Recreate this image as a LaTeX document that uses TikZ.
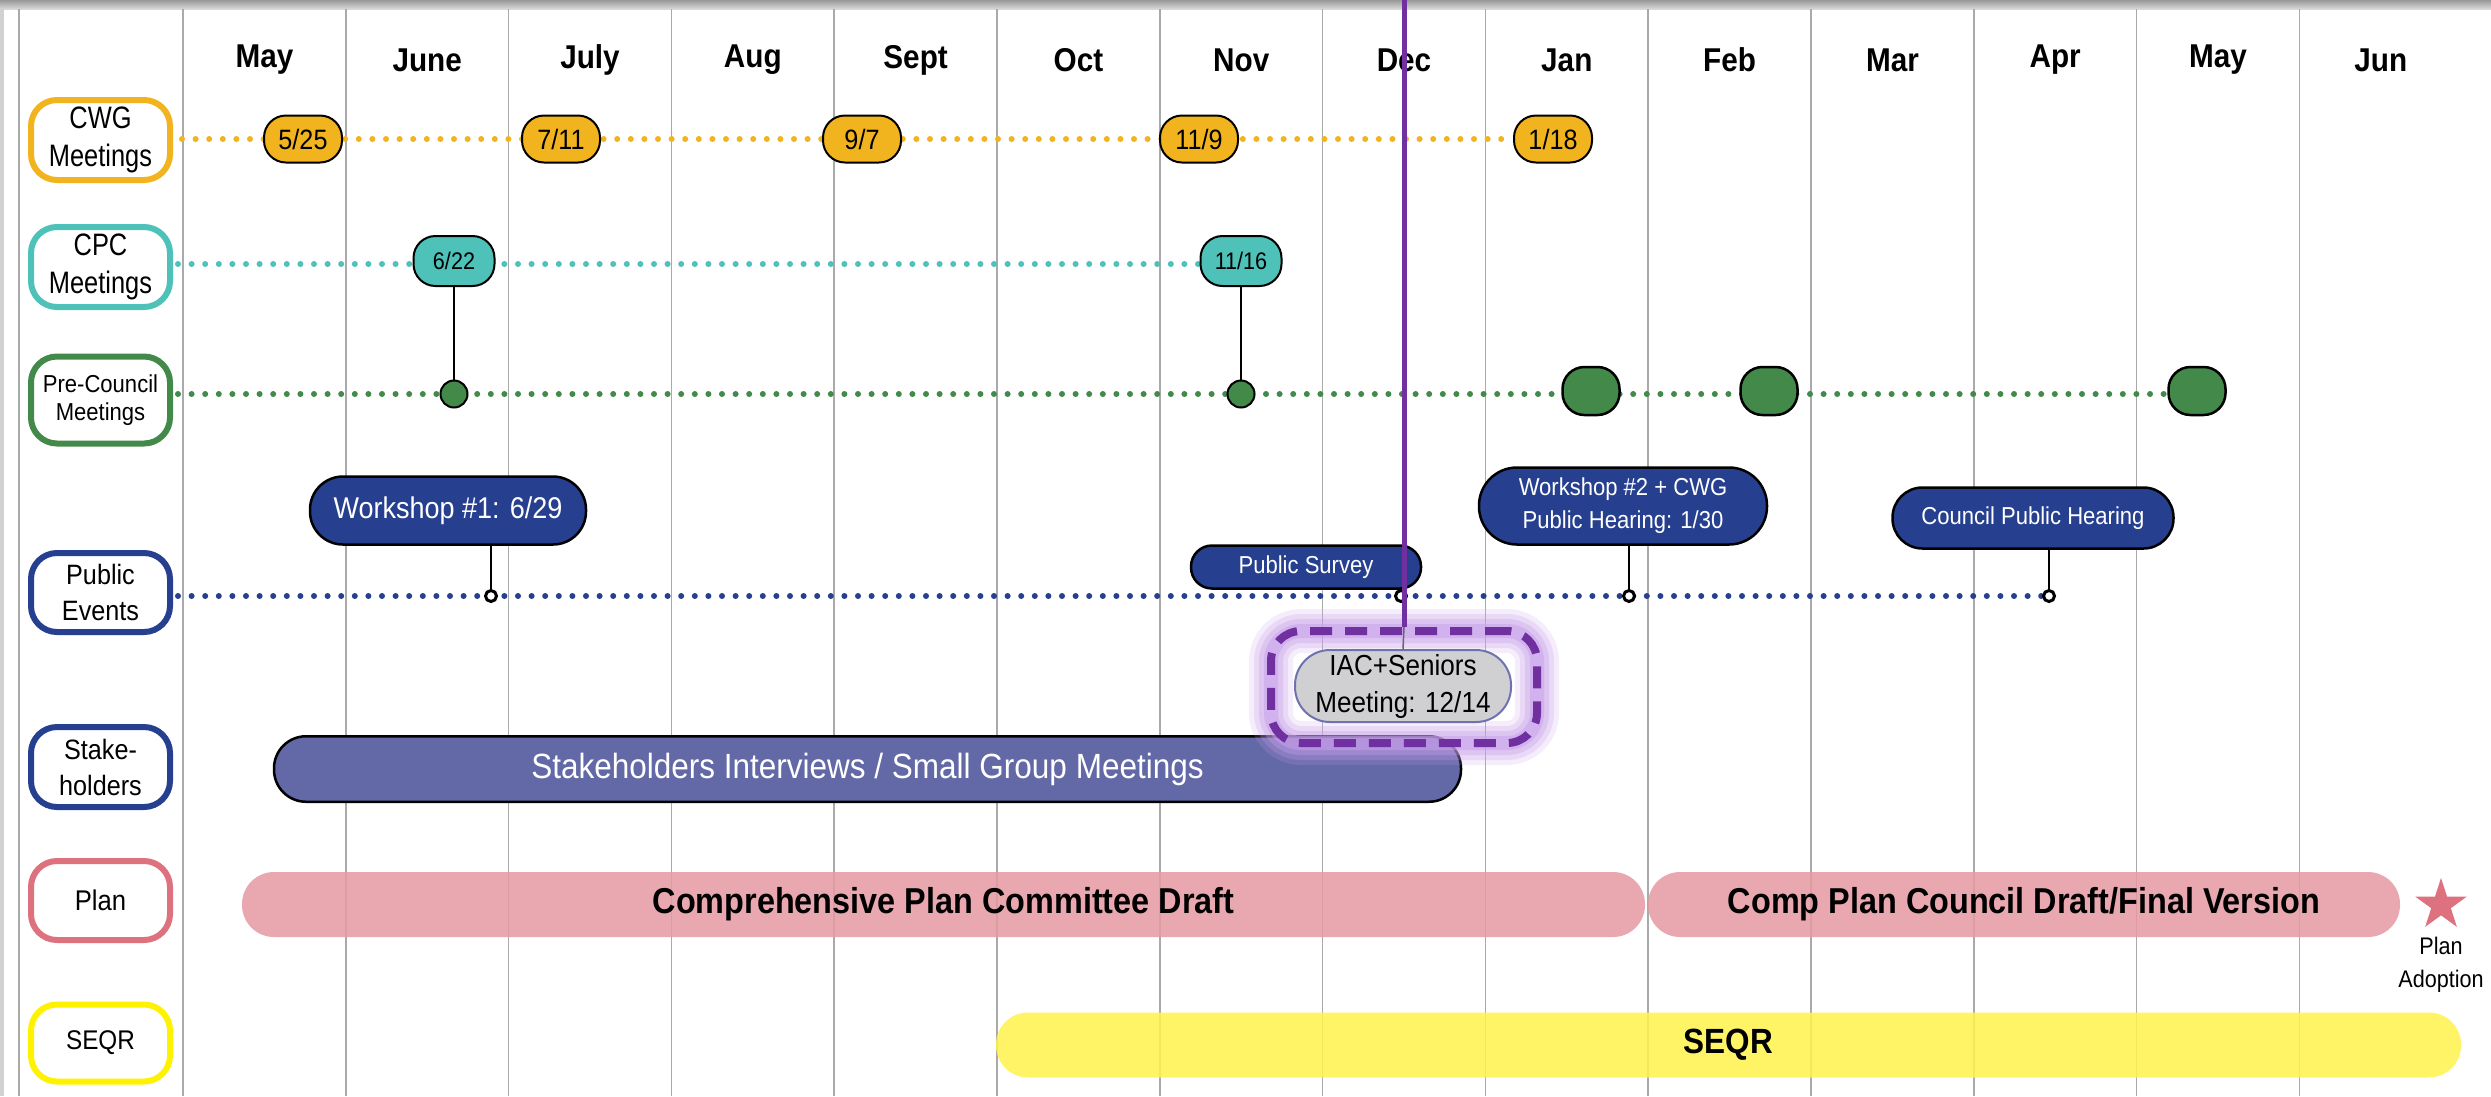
\documentclass[tikz,border=0pt]{standalone}
\usepackage{fontspec}
\setmainfont{Liberation Sans}[FakeStretch=0.9]
\newfontfamily\labelfont{Liberation Sans}[FakeStretch=0.82]
\usetikzlibrary{shapes.geometric,backgrounds}

\definecolor{cwgorange}{RGB}{242,180,30}
\definecolor{cpcteal}{RGB}{78,193,185}
\definecolor{pcgreen}{RGB}{67,137,74}
\definecolor{pubblue}{RGB}{38,64,143}
\definecolor{stakeblue}{RGB}{99,104,166}
\definecolor{planpink}{RGB}{230,153,161}
\definecolor{planrose}{RGB}{222,113,126}
\definecolor{seqryellow}{RGB}{255,242,0}
\definecolor{seqrbar}{RGB}{255,243,75}
\definecolor{iacpurple}{RGB}{112,48,160}
\definecolor{iacglow}{RGB}{200,160,235}
\definecolor{iacgray}{RGB}{208,208,210}
\definecolor{iacedge}{RGB}{110,115,175}
\definecolor{gridgray}{RGB}{170,170,170}

\newcommand{\fsz}[2]{\fontsize{#1}{#2}\selectfont}

\tikzset{
  monthline/.style={gridgray, line width=1.5pt},
  month/.style={font=\fsz{33}{36}\bfseries},
  rowbox/.style={draw=#1, line width=6pt, fill=white, rounded corners=26pt,
    minimum width=139pt, inner sep=0pt, align=center},
  dotrow/.style={draw=#1, line width=6pt, line cap=round, dash pattern=on 0pt off 13.6pt},
  datebox/.style={draw, line width=2pt, fill=#1, rounded corners=22pt,
    minimum width=78pt, minimum height=47pt, inner sep=0pt},
  pcdot/.style={circle, draw, line width=2pt, fill=pcgreen, minimum size=27pt, inner sep=0pt},
  pcmeet/.style={draw, line width=2.5pt, fill=pcgreen, rounded corners=22pt,
    minimum width=57pt, minimum height=48pt, inner sep=0pt},
  event/.style={draw, line width=2.5pt, fill=pubblue, text=white, align=center, inner sep=0pt},
  ring/.style={circle, draw, line width=3pt, fill=white, minimum size=11pt, inner sep=0pt},
  planbar/.style={fill=#1, fill opacity=0.85, text opacity=1, inner sep=0pt,
    minimum height=65pt, rounded corners=32pt, font=\fsz{36}{40}\bfseries},
  stalk/.style={line width=2pt},
}

\begin{document}
\begin{tikzpicture}[x=1pt,y=-1pt]
\useasboundingbox (0,0) rectangle (2491,1096);

% page frame and month columns
\begin{scope}[on background layer]
\fill[white] (0,0) rectangle (2491,1096);
\shade[top color=black!40, bottom color=black!15] (0,0) rectangle (2491,9);
\fill[black!18] (0,9) rectangle (4,1096);
\draw[monthline] (19,9) -- (19,1096);
\foreach \k in {0,...,13}
  \draw[monthline] ({183+162.8*\k},9) -- ({183+162.8*\k},1096);
\end{scope}

\foreach \m [count=\i from 0] in {May,June,July,Aug,Sept,Oct,Nov,Dec,Jan,Feb,Mar,Apr,May,Jun}
  \node[month] (mon\i) at ({264.4+162.8*\i},60) {\m};

% row labels
\node[rowbox=cwgorange, minimum height=80pt, font=\labelfont\fsz{31}{38}] (cwg) at (100.5,140) {CWG\\Meetings};
\node[rowbox=cpcteal, minimum height=80pt, font=\labelfont\fsz{31}{38}] (cpc) at (100.5,267) {CPC\\Meetings};
\node[rowbox=pcgreen, minimum height=87pt, font=\fsz{24.5}{28}] (precouncil) at (100.5,400) {Pre-Council\\Meetings};
\node[rowbox=pubblue, minimum height=79pt, font=\fsz{28}{36}] (public) at (100.5,592.5) {Public\\Events};
\node[rowbox=pubblue, minimum height=80pt, font=\fsz{28}{36}] (stake) at (100.5,767) {Stake-\\holders};
\node[rowbox=planrose, minimum height=79pt, font=\fsz{28.5}{32}] (plan) at (100.5,900.5) {Plan};
\node[rowbox=seqryellow, minimum height=77pt, font=\fsz{27}{32}] (seqr) at (100.5,1043) {SEQR};

% CWG meetings
\node[datebox=cwgorange, font=\fsz{28}{30}] (cwg1) at (303,139) {5/25};
\node[datebox=cwgorange, font=\fsz{28}{30}] (cwg2) at (561,139) {7/11};
\node[datebox=cwgorange, font=\fsz{28}{30}] (cwg3) at (862,139) {9/7};
\node[datebox=cwgorange, font=\fsz{28}{30}] (cwg4) at (1199,139) {11/9};
\node[datebox=cwgorange, font=\fsz{28}{30}] (cwg5) at (1553,139) {1/18};

% CPC meetings
\node[datebox=cpcteal, minimum width=81pt, minimum height=50pt, font=\fsz{24}{26}] (cpc1) at (454,261) {6/22};
\node[datebox=cpcteal, minimum width=81pt, minimum height=50pt, font=\fsz{24}{26}] (cpc2) at (1241,261) {11/16};

% pre-council meetings
\node[pcdot] (pc1) at (454,394) {};
\node[pcdot] (pc2) at (1241,394) {};
\node[pcmeet] (pc3) at (1591,391) {};
\node[pcmeet] (pc4) at (1769,391) {};
\node[pcmeet] (pc5) at (2197,391) {};

% public events
\node[event, minimum width=276pt, minimum height=68pt, rounded corners=33pt, font=\fsz{30}{34}] (ws1) at (448,510.5) {Workshop \#1: 6/29};
\node[event, minimum width=230pt, minimum height=43pt, rounded corners=21pt, font=\fsz{24.5}{28}] (survey) at (1306,567) {Public Survey};
\node[event, minimum width=288pt, minimum height=77pt, rounded corners=38pt, font=\fsz{24.5}{33}] (ws2) at (1623,506) {Workshop \#2 + CWG\\Public Hearing: 1/30};
\node[event, minimum width=281pt, minimum height=61pt, rounded corners=30pt, font=\fsz{24.5}{28}] (cph) at (2033,518) {Council Public Hearing};
\node[ring] (pe1) at (491,596) {};
\node[ring] (pe2) at (1401,596) {};
\node[ring] (pe3) at (1629,596) {};
\node[ring] (pe4) at (2049,596) {};

% stakeholders
\node[draw, line width=2.5pt, fill=stakeblue, text=white, minimum width=1187pt, minimum height=65.5pt,
  rounded corners=32pt, inner sep=0pt, font=\fsz{35}{38}] (stakebar) at (867.5,769) {Stakeholders Interviews / Small Group Meetings};

% IAC + seniors meeting
\foreach \w/\o in {44/0.18,34/0.25,24/0.35,14/0.5}
  \draw[iacglow, line width=\w pt, opacity=\o, rounded corners=30pt] (1271,631) rectangle (1537,743);
\node[draw=iacpurple, line width=8pt, dash pattern=on 22pt off 13pt, rounded corners=30pt,
  minimum width=266pt, minimum height=112pt, inner sep=0pt] (iacframe) at (1404,687) {};
\node[draw=iacedge, line width=2pt, fill=iacgray, rounded corners=35pt, minimum width=216pt, minimum height=72pt,
  inner sep=0pt, align=center, font=\fsz{29}{37}] (iac) at (1403,686) {IAC+Seniors\\Meeting: 12/14};

% plan and SEQR
\node[planbar=planpink, minimum width=1403pt] (plan1) at (943.5,904.5) {Comprehensive Plan Committee Draft};
\node[planbar=planpink, minimum width=752pt] (plan2) at (2024,904.5) {Comp Plan Council Draft/Final Version};
\node[star, star points=5, star point ratio=2.618, fill=planrose, minimum size=54pt, inner sep=0pt] (adopt) at (2441,905) {};
\node[font=\fsz{24}{33}, align=center] (adopttext) at (2441,965) {Plan\\Adoption};
\node[planbar=seqrbar, minimum width=1465pt, font=\fsz{35}{38}\bfseries] (seqrbar) at (1728.5,1045) {SEQR};

% stems
\draw[stalk] (cpc1) -- (pc1);
\draw[stalk] (cpc2) -- (pc2);
\draw[stalk] (ws1.south -| pe1) -- (pe1);
\draw[stalk] (ws2.south -| pe3) -- (pe3);
\draw[stalk] (cph.south -| pe4) -- (pe4);

% dotted time lines
\begin{scope}[on background layer]
\coordinate (cwgstart) at (182,139);
\coordinate (cpcstart) at (178,264);
\coordinate (pcstart) at (178,394);
\coordinate (pubstart) at (178,596);
\draw[dotrow=cwgorange] (cwgstart) -- (cwg5);
\draw[dotrow=cpcteal] (cpcstart) -- (cpcstart -| cpc2);
\draw[dotrow=pcgreen] (pcstart) -- (pcstart -| pc5);
\draw[dotrow=pubblue] (pubstart) -- (pe4);
\end{scope}

% today marker
\coordinate (dectop) at (1404,0);
\draw[iacpurple, line width=5pt] (dectop) -- (iacframe.north);
\draw[black!60, line width=1.5pt] (iacframe.north) -- (iac.north);
\end{tikzpicture}
\end{document}
